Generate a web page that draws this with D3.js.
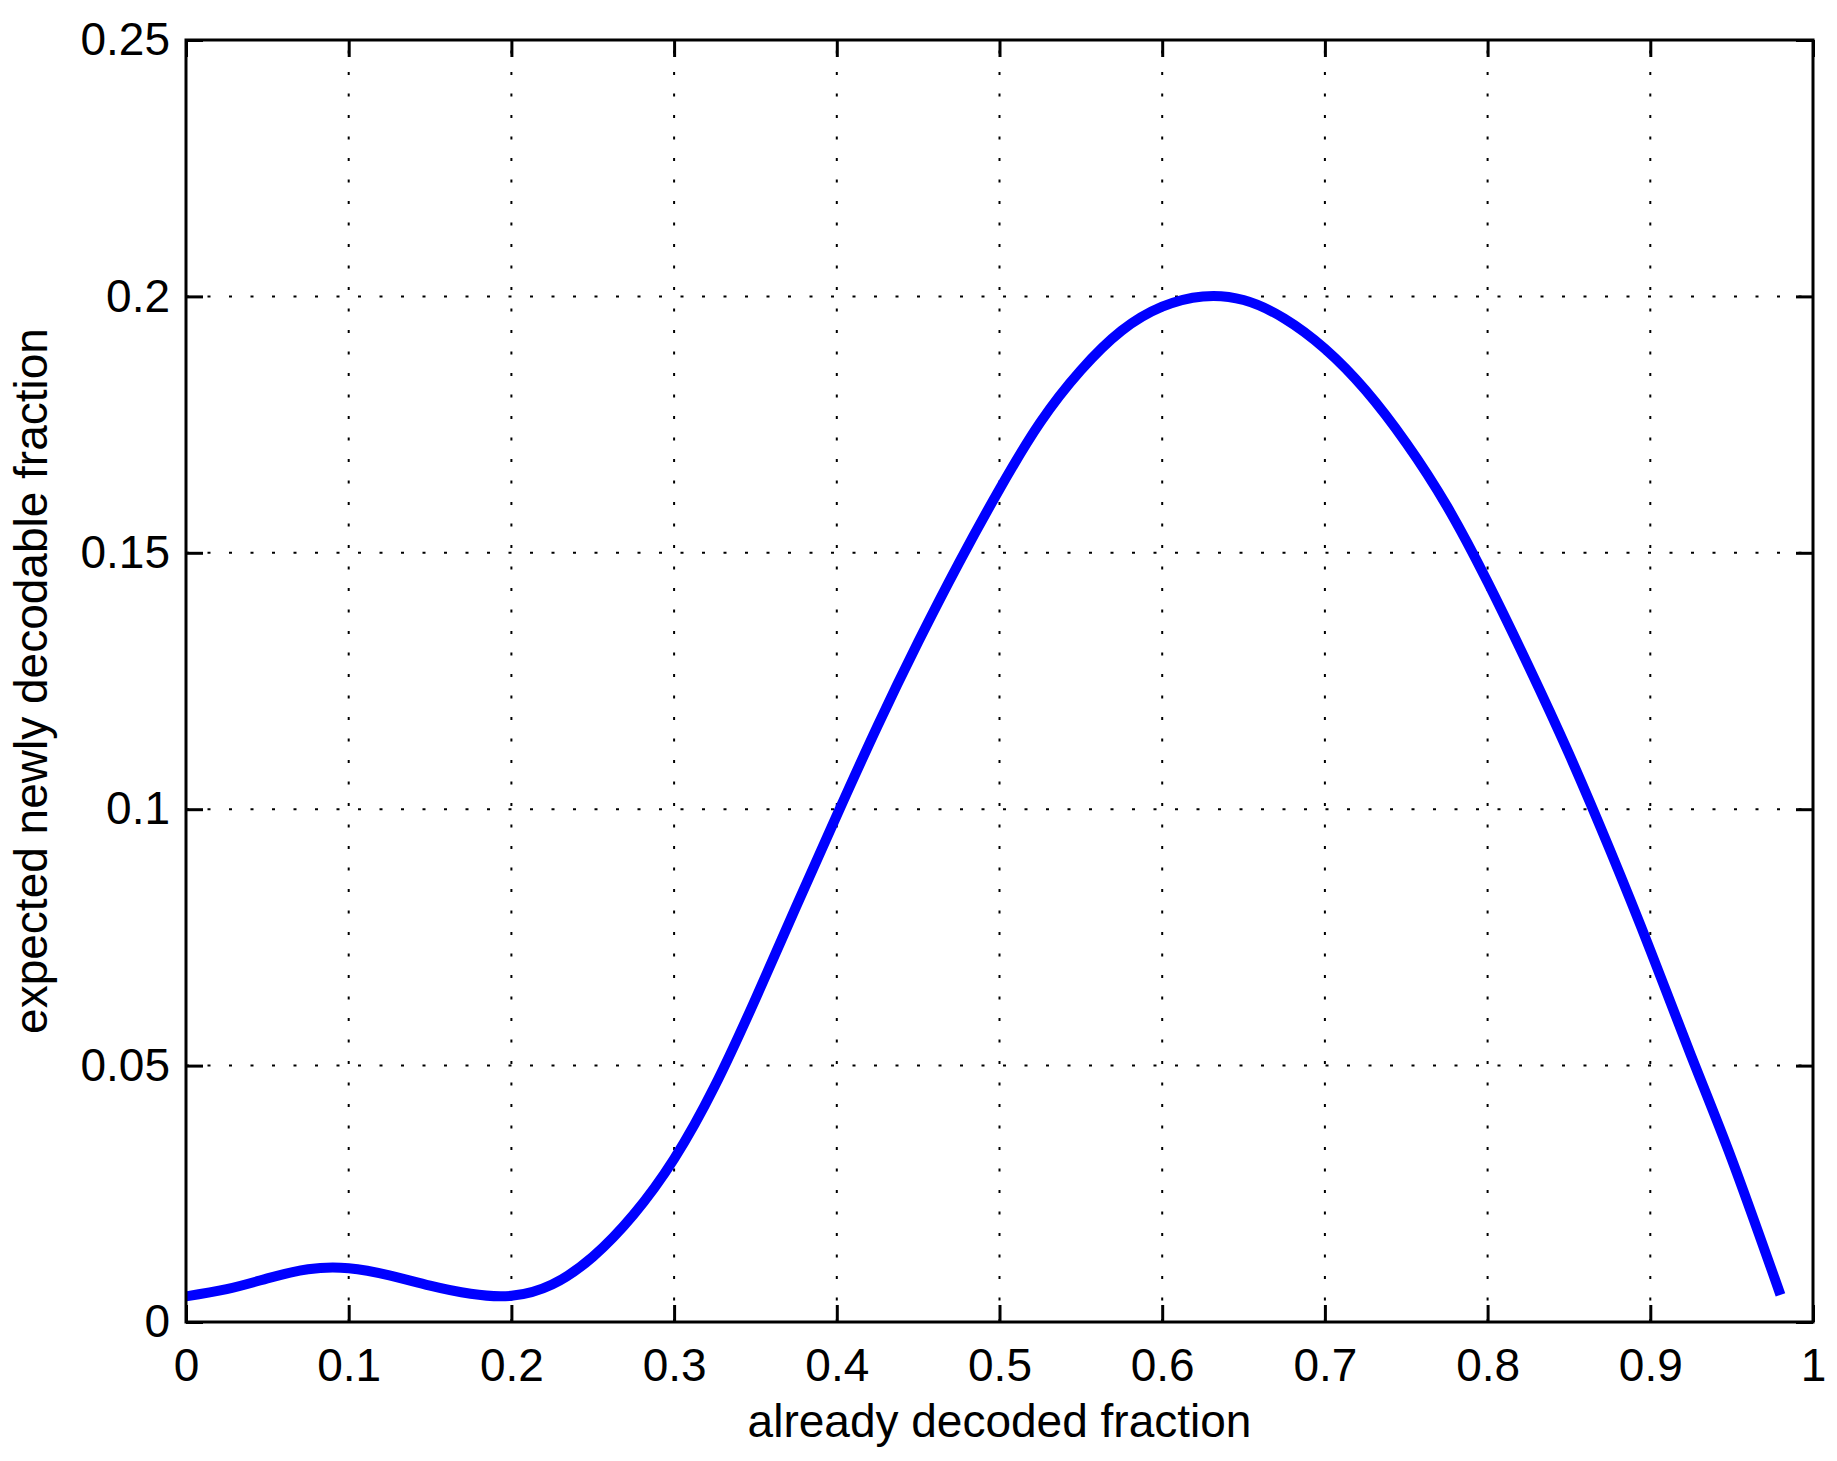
<html>

<head>
    <meta charset="UTF-8">
    <script src="https://d3js.org/d3.v7.min.js"></script>
    <style>
        body { margin: 0; background: #fff; }
        text { font-family: "Liberation Sans", Arial, Helvetica, sans-serif; }
    </style>
</head>

<body>

</body>
<script>
    // data
    var decoded = [0, 0.025, 0.05, 0.075, 0.1, 0.125, 0.15, 0.175, 0.2, 0.225, 0.25, 0.275,
        0.3, 0.325, 0.35, 0.375, 0.4, 0.425, 0.45, 0.475, 0.5, 0.525, 0.55, 0.575, 0.6, 0.625, 0.65,
        0.675, 0.7, 0.725, 0.75, 0.775, 0.8, 0.825, 0.85, 0.875, 0.9, 0.925, 0.95, 0.98];
    var newlyDecodable = [0.0050, 0.0064, 0.0085, 0.0103, 0.0105, 0.0091, 0.0071, 0.0055, 0.0051, 0.0073,
        0.0127, 0.0209, 0.0318, 0.0460, 0.0630, 0.0810, 0.0988, 0.1162, 0.1326, 0.1480, 0.1624,
        0.1754, 0.1856, 0.1933, 0.1980, 0.2000, 0.1993, 0.1957, 0.1898, 0.1817, 0.1714, 0.1591,
        0.1443, 0.1280, 0.1108, 0.0922, 0.0725, 0.0520, 0.0318, 0.0053];
    var xTicks = [0, 0.1, 0.2, 0.3, 0.4, 0.5, 0.6, 0.7, 0.8, 0.9, 1];
    var yTicks = [0, 0.05, 0.1, 0.15, 0.2, 0.25];
    var xTitle = "already decoded fraction";
    var yTitle = "expected newly decodable fraction";

    var margin = { top: 40, right: 24, bottom: 139, left: 186 },
        width = 1837 - margin.left - margin.right,
        height = 1461 - margin.top - margin.bottom,
        tick = 17,
        fontSize = 46;

    var svg = d3.select("body")
        .append("svg")
        .attr("width", 1837)
        .attr("height", 1461)
        .append("g")
        .attr("transform", "translate(" + margin.left + "," + margin.top + ")");

    var x = d3.scaleLinear().domain([0, 1]).range([0, width]);
    var y = d3.scaleLinear().domain([0, 0.25]).range([height, 0]);

    // dotted grid
    var grid = svg.append("g")
        .attr("stroke", "#000")
        .attr("stroke-width", 2)
        .attr("stroke-dasharray", "3,18.5");
    grid.selectAll(".vgrid")
        .data(xTicks.slice(1, -1))
        .enter()
        .append("line")
        .attr("x1", function (d) { return x(d); })
        .attr("x2", function (d) { return x(d); })
        .attr("y1", height)
        .attr("y2", 0);
    grid.selectAll(".hgrid")
        .data(yTicks.slice(1, -1))
        .enter()
        .append("line")
        .attr("x1", 0)
        .attr("x2", width)
        .attr("y1", function (d) { return y(d); })
        .attr("y2", function (d) { return y(d); });

    // curve
    var pts = decoded.map(function (d, i) { return [d, newlyDecodable[i]]; });
    svg.append("path")
        .datum(pts)
        .attr("fill", "none")
        .attr("stroke", "#0000ff")
        .attr("stroke-width", 10)
        .attr("stroke-linejoin", "round")
        .attr("d", d3.line()
            .x(function (d) { return x(d[0]); })
            .y(function (d) { return y(d[1]); })
            .curve(d3.curveNatural));

    // axes, ticks pointing inside like MATLAB
    function fmt(d) { return String(+d.toFixed(2)); }

    var xb = svg.append("g")
        .attr("transform", "translate(0," + height + ")")
        .call(d3.axisBottom(x).tickValues(xTicks).tickFormat(fmt).tickSizeInner(-tick).tickSizeOuter(0).tickPadding(26));
    var xt = svg.append("g")
        .call(d3.axisTop(x).tickValues(xTicks).tickFormat("").tickSizeInner(-tick).tickSizeOuter(0));
    var yl = svg.append("g")
        .call(d3.axisLeft(y).tickValues(yTicks).tickFormat(fmt).tickSizeInner(-tick).tickSizeOuter(0).tickPadding(16));
    var yr = svg.append("g")
        .attr("transform", "translate(" + width + ",0)")
        .call(d3.axisRight(y).tickValues(yTicks).tickFormat("").tickSizeInner(-tick).tickSizeOuter(0));

    [xb, xt, yl, yr].forEach(function (g) {
        g.select(".domain").remove();
        g.selectAll("line").attr("stroke", "#000").attr("stroke-width", 3);
        g.selectAll("text")
            .attr("fill", "#000")
            .style("font-size", fontSize + "px")
            .style("font-family", "'Liberation Sans', Arial, sans-serif");
    });

    // box
    svg.append("rect")
        .attr("x", 0)
        .attr("y", 0)
        .attr("width", width)
        .attr("height", height)
        .attr("fill", "none")
        .attr("stroke", "#000")
        .attr("stroke-width", 3);

    // titles
    svg.append("text")
        .attr("x", width / 2)
        .attr("y", height + 115)
        .attr("text-anchor", "middle")
        .style("font-size", fontSize + "px")
        .text(xTitle);

    svg.append("text")
        .attr("transform", "translate(" + (47 - margin.left) + "," + (height / 2) + ") rotate(-90)")
        .attr("text-anchor", "middle")
        .style("font-size", fontSize + "px")
        .text(yTitle);
</script>

</html>
